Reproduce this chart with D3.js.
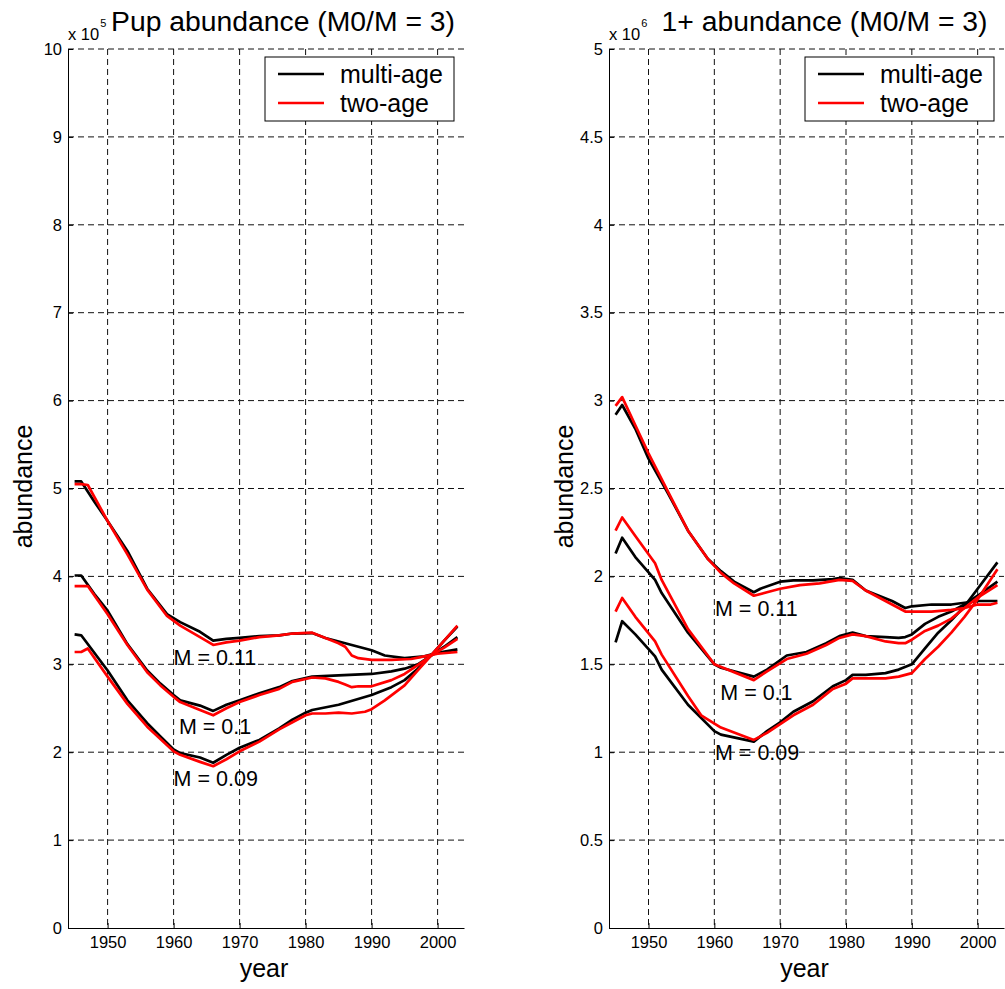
<!DOCTYPE html>
<html>
<head>
<meta charset="utf-8">
<script src="https://cdn.jsdelivr.net/npm/d3@7"></script>
<style>
  body { margin: 0; background: #fff; }
  svg text { font-family: "Liberation Sans", Arial, Helvetica, sans-serif; fill: #000; }
</style>
</head>
<body>
<svg id="chart" width="1005" height="989"></svg>
<script>
// x axis (years)
var xDomain = [1944, 2004];
var xTicks = [1950, 1960, 1970, 1980, 1990, 2000];

// pup abundance, x 10^5
var pupTicks = [0, 1, 2, 3, 4, 5, 6, 7, 8, 9, 10];
var pupMulti011 = [[1945,5.08],[1946,5.08],[1948,4.85],[1950,4.63],[1953,4.29],[1956,3.86],[1959,3.57],[1961,3.48],[1964,3.37],[1966,3.27],[1968,3.29],[1970,3.30],[1973,3.32],[1976,3.33],[1978,3.35],[1981,3.355],[1983,3.30],[1985,3.26],[1987,3.22],[1990,3.16],[1992,3.10],[1995,3.07],[1998,3.09],[2000,3.13],[2003,3.17]];
var pupTwo011   = [[1945,5.05],[1946,5.05],[1947,5.04],[1950,4.63],[1953,4.25],[1956,3.85],[1959,3.55],[1961,3.44],[1964,3.31],[1966,3.22],[1968,3.25],[1970,3.27],[1973,3.31],[1976,3.33],[1978,3.35],[1981,3.36],[1983,3.30],[1985,3.24],[1986,3.20],[1987,3.10],[1988,3.07],[1990,3.05],[1993,3.05],[1996,3.06],[1998,3.09],[2000,3.12],[2003,3.14]];
var pupMulti010 = [[1945,4.01],[1946,4.01],[1948,3.80],[1950,3.61],[1953,3.23],[1956,2.93],[1958,2.78],[1960,2.65],[1961,2.59],[1964,2.53],[1966,2.47],[1968,2.54],[1970,2.59],[1973,2.67],[1976,2.74],[1978,2.81],[1981,2.86],[1985,2.875],[1990,2.89],[1993,2.92],[1995,2.95],[1997,3.00],[1999,3.10],[2001,3.20],[2003,3.31]];
var pupTwo010   = [[1945,3.89],[1946,3.89],[1947,3.89],[1950,3.57],[1953,3.22],[1956,2.91],[1958,2.76],[1960,2.63],[1961,2.57],[1964,2.48],[1966,2.42],[1968,2.50],[1970,2.57],[1973,2.65],[1976,2.72],[1978,2.80],[1981,2.85],[1983,2.84],[1984,2.82],[1985,2.80],[1986,2.77],[1987,2.74],[1988,2.75],[1990,2.75],[1993,2.82],[1995,2.89],[1997,2.99],[1999,3.10],[2001,3.19],[2003,3.29]];
var pupMulti009 = [[1945,3.34],[1946,3.33],[1950,2.93],[1953,2.59],[1956,2.33],[1958,2.18],[1960,2.03],[1961,1.99],[1964,1.94],[1966,1.88],[1968,1.97],[1970,2.05],[1973,2.14],[1976,2.27],[1978,2.37],[1980,2.45],[1981,2.48],[1985,2.54],[1990,2.65],[1993,2.74],[1995,2.82],[1997,2.95],[1999,3.10],[2001,3.27],[2003,3.43]];
var pupTwo009   = [[1945,3.14],[1946,3.14],[1947,3.18],[1950,2.86],[1953,2.55],[1956,2.29],[1958,2.15],[1960,2.01],[1961,1.97],[1964,1.89],[1966,1.84],[1968,1.92],[1970,2.01],[1973,2.12],[1976,2.26],[1978,2.34],[1980,2.42],[1981,2.44],[1983,2.44],[1985,2.45],[1987,2.44],[1989,2.46],[1990,2.49],[1992,2.59],[1995,2.76],[1997,2.93],[1999,3.10],[2001,3.27],[2003,3.44]];

// 1+ abundance, x 10^6
var adultTicks = [0, 0.5, 1, 1.5, 2, 2.5, 3, 3.5, 4, 4.5, 5];
var adultMulti011 = [[1945,2.92],[1946,2.975],[1948,2.84],[1950,2.67],[1953,2.47],[1956,2.26],[1959,2.10],[1961,2.03],[1963,1.97],[1966,1.91],[1967,1.93],[1970,1.97],[1972,1.977],[1975,1.977],[1978,1.985],[1979,1.99],[1981,1.98],[1983,1.92],[1987,1.86],[1989,1.82],[1990,1.83],[1993,1.84],[1996,1.84],[1998,1.85],[2000,1.86],[2002,1.86],[2003,1.86]];
var adultTwo011   = [[1945,2.97],[1946,3.02],[1948,2.86],[1950,2.70],[1953,2.48],[1956,2.26],[1959,2.10],[1961,2.02],[1963,1.96],[1966,1.89],[1968,1.91],[1970,1.93],[1973,1.95],[1976,1.96],[1979,1.98],[1981,1.975],[1983,1.92],[1987,1.84],[1989,1.80],[1993,1.80],[1996,1.81],[1998,1.82],[2000,1.84],[2002,1.84],[2003,1.85]];
var adultMulti010 = [[1945,2.13],[1946,2.22],[1948,2.11],[1951,1.98],[1952,1.905],[1956,1.68],[1960,1.50],[1961,1.48],[1966,1.43],[1968,1.47],[1971,1.55],[1974,1.57],[1977,1.62],[1979,1.66],[1981,1.68],[1983,1.66],[1986,1.655],[1988,1.65],[1989,1.655],[1990,1.67],[1992,1.73],[1994,1.77],[1996,1.80],[1998,1.84],[2000,1.89],[2003,1.97]];
var adultTwo010   = [[1945,2.26],[1946,2.335],[1948,2.23],[1951,2.075],[1952,1.98],[1956,1.70],[1960,1.50],[1966,1.41],[1968,1.46],[1971,1.53],[1974,1.56],[1977,1.61],[1979,1.65],[1981,1.67],[1983,1.66],[1986,1.63],[1988,1.62],[1989,1.62],[1990,1.64],[1992,1.69],[1994,1.72],[1996,1.76],[1998,1.82],[2000,1.88],[2003,1.95]];
var adultMulti009 = [[1945,1.625],[1946,1.745],[1948,1.67],[1951,1.545],[1952,1.47],[1956,1.27],[1960,1.12],[1961,1.10],[1966,1.06],[1968,1.12],[1970,1.17],[1972,1.23],[1975,1.29],[1978,1.375],[1980,1.41],[1981,1.44],[1983,1.44],[1986,1.45],[1988,1.47],[1990,1.50],[1992,1.59],[1994,1.68],[1996,1.75],[1998,1.83],[2000,1.93],[2003,2.08]];
var adultTwo009   = [[1945,1.80],[1946,1.877],[1948,1.77],[1951,1.63],[1952,1.555],[1956,1.32],[1958,1.21],[1961,1.14],[1966,1.07],[1968,1.11],[1970,1.16],[1972,1.21],[1975,1.27],[1978,1.36],[1980,1.39],[1981,1.42],[1983,1.42],[1986,1.42],[1988,1.43],[1990,1.45],[1992,1.53],[1994,1.60],[1996,1.68],[1998,1.77],[2000,1.87],[2003,2.04]];

var legendNames = ["multi-age", "two-age"];
var legendColors = ["#000000", "#ff0000"];

var svg = d3.select("#chart");
var top_y = 49, bottom_y = 928;

function drawPanel(p){
  var g = svg.append("g");
  var x = d3.scaleLinear().domain(xDomain).range([p.left, p.right]);
  var y = d3.scaleLinear().domain([0, p.yMax]).range([bottom_y, top_y]);

  // dashed grid
  g.selectAll(".vgrid").data(xTicks).enter().append("line")
    .attr("x1", function(d){ return x(d); }).attr("x2", function(d){ return x(d); })
    .attr("y1", y(p.yMax)).attr("y2", y(0))
    .attr("stroke", "#111").attr("stroke-width", 1).attr("stroke-dasharray", "6,4");
  g.selectAll(".hgrid").data(p.yTicks.filter(function(d){ return d > 0; })).enter().append("line")
    .attr("x1", x(xDomain[0])).attr("x2", x(xDomain[1]))
    .attr("y1", function(d){ return y(d); }).attr("y2", function(d){ return y(d); })
    .attr("stroke", "#111").attr("stroke-width", 1).attr("stroke-dasharray", "6,4");

  // axes
  var ya = g.append("g").attr("transform", "translate(" + p.left + ",0)")
    .call(d3.axisLeft(y).tickValues(p.yTicks).tickFormat(d3.format("~g"))
      .tickSizeInner(-5).tickSizeOuter(0).tickPadding(6));
  var xa = g.append("g").attr("transform", "translate(0," + bottom_y + ")")
    .call(d3.axisBottom(x).tickValues(xTicks).tickFormat(d3.format("d"))
      .tickSizeInner(-5).tickSizeOuter(0).tickPadding(8));
  [ya, xa].forEach(function(a){
    a.selectAll("text").style("font-size", "16.5px").attr("fill", "#000");
    a.selectAll("line").attr("stroke", "#000");
    a.select(".domain").attr("stroke", "#000");
  });

  // curves: multi-age first, two-age drawn over it
  var line = d3.line().x(function(d){ return x(d[0]); }).y(function(d){ return y(d[1]); });
  p.multi.concat(p.two).forEach(function(s, i){
    g.append("path").datum(s)
      .attr("d", line)
      .attr("fill", "none")
      .attr("stroke", i < p.multi.length ? legendColors[0] : legendColors[1])
      .attr("stroke-width", 2.7)
      .attr("stroke-linejoin", "round");
  });

  // M labels
  p.labels.forEach(function(l){
    g.append("text")
      .attr("x", x(l.year)).attr("y", y(l.value))
      .attr("dominant-baseline", "central")
      .style("font-size", "21.5px")
      .text(l.text);
  });

  // title and exponent
  g.append("text")
    .attr("x", (p.left + p.right) / 2 + p.titleShift).attr("y", 31)
    .attr("text-anchor", "middle")
    .attr("textLength", p.titleWidth).attr("lengthAdjust", "spacingAndGlyphs")
    .style("font-size", "27px")
    .text(p.title);
  var ex = g.append("text").attr("x", p.left).attr("y", 40).style("font-size", "16.5px");
  ex.append("tspan").text("x 10");
  ex.append("tspan").attr("dy", -13).attr("dx", 1).style("font-size", "11px").text(p.exponent);

  // axis labels
  g.append("text")
    .attr("x", (p.left + p.right) / 2 - 2).attr("y", 977)
    .attr("text-anchor", "middle").style("font-size", "25px")
    .text("year");
  g.append("text")
    .attr("transform", "translate(" + (p.left - 36) + "," + ((top_y + bottom_y) / 2 - 2) + ") rotate(-90)")
    .attr("text-anchor", "middle").style("font-size", "25px")
    .text("abundance");

  // legend
  var lw = 189, lh = 64;
  var lx = p.right - 10 - lw, ly = top_y + 8;
  var lg = g.append("g").attr("transform", "translate(" + lx + "," + ly + ")");
  lg.append("rect").attr("width", lw).attr("height", lh)
    .attr("fill", "#fff").attr("stroke", "#000").attr("stroke-width", 1);
  legendNames.forEach(function(name, i){
    var yy = 17 + i * 29;
    lg.append("line").attr("x1", 13).attr("x2", 59).attr("y1", yy).attr("y2", yy)
      .attr("stroke", legendColors[i]).attr("stroke-width", 2.7);
    lg.append("text").attr("x", 75).attr("y", yy)
      .attr("dominant-baseline", "central").style("font-size", "25px")
      .text(name);
  });
}

drawPanel({
  left: 68, right: 464, yMax: 10, yTicks: pupTicks,
  title: "Pup abundance (M0/M = 3)", titleShift: 17, titleWidth: 344, exponent: "5",
  multi: [pupMulti011, pupMulti010, pupMulti009],
  two: [pupTwo011, pupTwo010, pupTwo009],
  labels: [
    {year: 1960, value: 3.07, text: "M = 0.11"},
    {year: 1960.8, value: 2.29, text: "M = 0.1"},
    {year: 1960, value: 1.69, text: "M = 0.09"}
  ]
});

drawPanel({
  left: 609, right: 1004, yMax: 5, yTicks: adultTicks,
  title: "1+ abundance (M0/M = 3)", titleShift: 18, titleWidth: 326, exponent: "6",
  multi: [adultMulti011, adultMulti010, adultMulti009],
  two: [adultTwo011, adultTwo010, adultTwo009],
  labels: [
    {year: 1960.1, value: 1.815, text: "M = 0.11"},
    {year: 1960.9, value: 1.335, text: "M = 0.1"},
    {year: 1960.1, value: 0.994, text: "M = 0.09"}
  ]
});
</script>
</body>
</html>
